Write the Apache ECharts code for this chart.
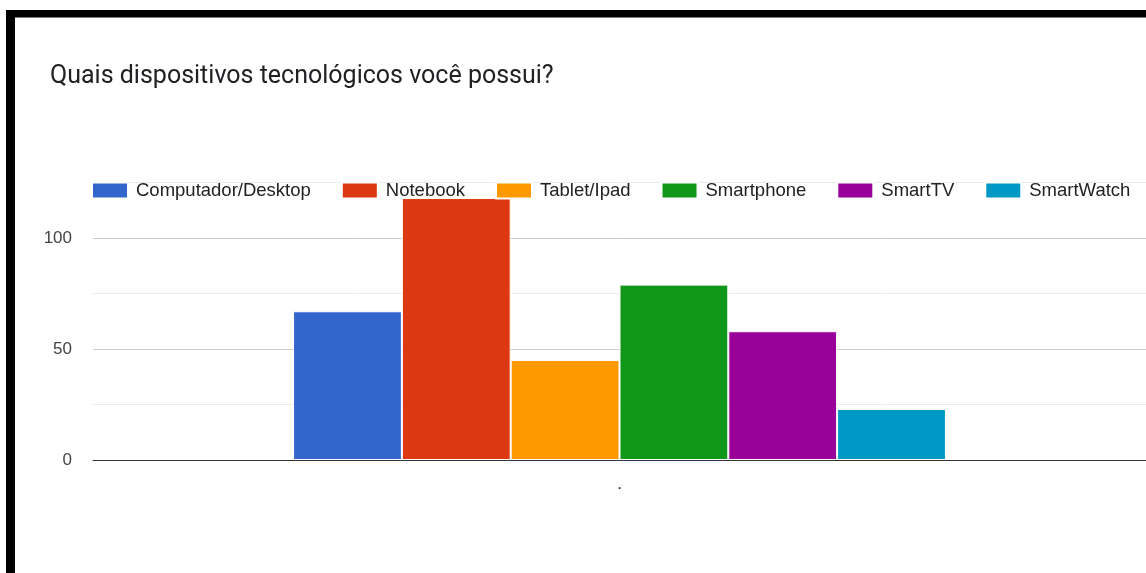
<!DOCTYPE html>
<html>
<head>
<meta charset="utf-8">
<script src="https://cdn.jsdelivr.net/npm/echarts@6/dist/echarts.min.js"></script>
<style>
html,body{margin:0;padding:0;background:#fff;}
#c{width:1146px;height:573px;}
</style>
</head>
<body>
<div id="c"></div>
<script>
const titleText = 'Quais dispositivos tecnológicos você possui?';
const categories = ['.'];
const seriesNames = ['Computador/Desktop', 'Notebook', 'Tablet/Ipad', 'Smartphone', 'SmartTV', 'SmartWatch'];
const seriesValues = [67, 118, 45, 79, 58, 23];
const seriesColors = ['#3366cc', '#dc3912', '#ff9900', '#109618', '#990099', '#0099c6'];
const yTicks = [0, 50, 100];

const chart = echarts.init(document.getElementById('c'));
chart.setOption({
  animation: false,
  backgroundColor: '#fff',
  title: {
    text: titleText,
    left: 50, top: 64, padding: 0,
    textStyle: {fontFamily: 'Roboto', fontSize: 25, fontWeight: 'normal', color: '#202124'}
  },
  legend: {
    left: 91, top: 181, padding: 0,
    itemWidth: 36, itemHeight: 16, itemGap: 30,
    icon: 'rect',
    textStyle: {fontFamily: 'Liberation Sans', fontSize: 18.5, color: '#222', padding: [0,0,0,3]},
    data: seriesNames
  },
  grid: {left: 93, right: -4, top: 182.5, bottom: 113},
  xAxis: {
    type: 'category', data: categories,
    axisLine: {lineStyle: {color: '#333', width: 1}},
    axisTick: {show: false},
    axisLabel: {fontFamily: 'Liberation Sans', fontSize: 17, color: '#222', margin: 16}
  },
  yAxis: {
    type: 'value', min: 0, max: 125, interval: 25,
    axisLine: {show: false}, axisTick: {show: false},
    axisLabel: {
      fontFamily: 'Liberation Sans', fontSize: 17, color: '#444', margin: 21,
      formatter: v => yTicks.indexOf(v) >= 0 ? String(v) : ''
    },
    splitLine: {lineStyle: {color: ['#cccccc', '#ebebeb'], width: 1}}
  },
  graphic: [
    {type: 'rect', shape: {x: 6, y: 10, width: 1140, height: 7.5}, style: {fill: '#000'}, z: 100},
    {type: 'rect', shape: {x: 6, y: 10, width: 9, height: 563}, style: {fill: '#000'}, z: 100}
  ],
  series: seriesNames.map((n, i) => ({
    name: n, type: 'bar',
    data: [seriesValues[i]],
    barGap: '0%', barCategoryGap: '38%',
    itemStyle: {color: seriesColors[i], borderColor: '#fff', borderWidth: 1}
  }))
});
</script>
</body>
</html>
